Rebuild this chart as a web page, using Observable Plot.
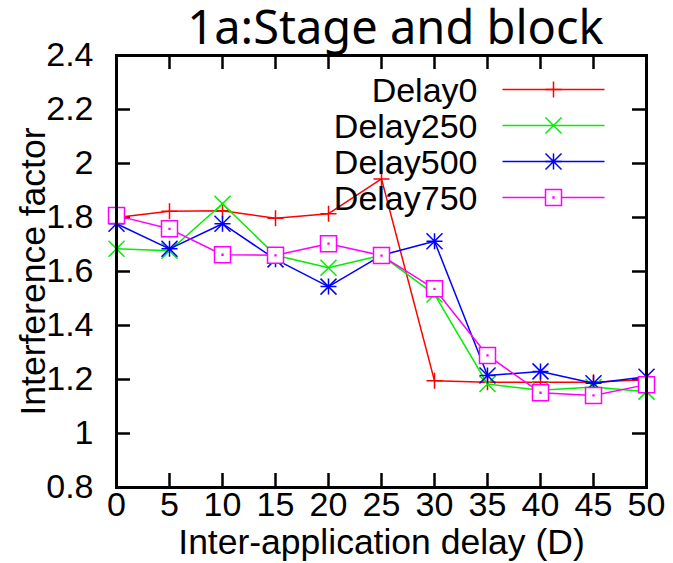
<!DOCTYPE html>
<html>
<head>
<meta charset="utf-8">
<script src="https://cdn.jsdelivr.net/npm/d3@7"></script>
<script src="https://cdn.jsdelivr.net/npm/@observablehq/plot@0.6"></script>
<style>
  html, body { margin: 0; padding: 0; background: white; }
  #chart { width: 673px; height: 563px; }
</style>
</head>
<body>
<div id="chart"></div>
<script>
// ---- data ----
const titleText = "1a:Stage and block";
const xLabel = "Inter-application delay (D)";
const yLabel = "Interference factor";
const xTicks = [0, 5, 10, 15, 20, 25, 30, 35, 40, 45, 50];
const yTicks = [0.8, 1.0, 1.2, 1.4, 1.6, 1.8, 2.0, 2.2, 2.4];
const yTickLabels = ["0.8", "1", "1.2", "1.4", "1.6", "1.8", "2", "2.2", "2.4"];
const delays = [0, 5, 10, 15, 20, 25, 30, 35, 40, 45, 50];
const delay0   = [1.80, 1.823, 1.825, 1.797, 1.814, 1.943, 1.195, 1.19, 1.19, 1.19, 1.20];
const delay250 = [1.684, 1.677, 1.851, 1.66, 1.614, 1.66, 1.515, 1.183, 1.16, 1.172, 1.155];
const delay500 = [1.777, 1.684, 1.777, 1.645, 1.544, 1.66, 1.712, 1.215, 1.23, 1.186, 1.21];
const delay750 = [1.807, 1.758, 1.662, 1.66, 1.703, 1.659, 1.536, 1.289, 1.151, 1.141, 1.181];
const seriesNames = ["Delay0", "Delay250", "Delay500", "Delay750"];
const seriesValues = [delay0, delay250, delay500, delay750];
const seriesColors = ["#ff0000", "#00ee00", "#0000ff", "#ff00ff"];

// ---- gnuplot-like point symbols ----
const half = s => Math.sqrt(s / Math.PI);
const symPlus = {draw(c, s) { const h = half(s); c.moveTo(-h, 0); c.lineTo(h, 0); c.moveTo(0, -h); c.lineTo(0, h); }};
const symTimes = {draw(c, s) { const h = half(s); c.moveTo(-h, -h); c.lineTo(h, h); c.moveTo(-h, h); c.lineTo(h, -h); }};
const symStar = {draw(c, s) { const h = half(s); c.moveTo(-h, 0); c.lineTo(h, 0); c.moveTo(0, -h); c.lineTo(0, h);
  c.moveTo(-h, -h); c.lineTo(h, h); c.moveTo(-h, h); c.lineTo(h, -h); }};
const symSquare = {draw(c, s) { const h = half(s); c.rect(-h, -h, 2 * h, 2 * h); c.rect(-0.4, -0.4, 0.8, 0.8); }};
const symHLine = {draw(c, s) { const h = half(s); c.moveTo(-h, 0); c.lineTo(h, 0); }};
const seriesSymbols = [symPlus, symTimes, symStar, symSquare];
const seriesFill = ["none", "none", "none", "white"];

const rows = seriesNames.flatMap((name, si) =>
  delays.map((d, i) => ({series: name, si, x: d, y: seriesValues[si][i]})));

const marks = [];
// series: line then points, in gnuplot order
seriesNames.forEach((name, si) => {
  const data = rows.filter(r => r.si === si);
  marks.push(Plot.line(data, {x: "x", y: "y", stroke: seriesColors[si], strokeWidth: 1.5}));
  marks.push(Plot.dot(data, {x: "x", y: "y", r: 8, symbol: seriesSymbols[si],
    stroke: seriesColors[si], fill: seriesFill[si], strokeWidth: 1.5}));
});

// legend (inside the frame, top right)
seriesNames.forEach((name, si) => {
  const dy = 34 + si * 36;
  marks.push(Plot.text([name], {text: d => d, frameAnchor: "top-left", dx: 361, dy: dy + 12,
    textAnchor: "end", lineAnchor: "bottom", fontSize: 34}));
  marks.push(Plot.dot([name], {frameAnchor: "top-left", dx: 437, dy, r: 51, symbol: symHLine,
    stroke: seriesColors[si], strokeWidth: 1.5}));
  marks.push(Plot.dot([name], {frameAnchor: "top-left", dx: 437, dy, r: 8, symbol: seriesSymbols[si],
    stroke: seriesColors[si], fill: seriesFill[si], strokeWidth: 1.5}));
});

const x0 = xTicks[0], x1 = xTicks[xTicks.length - 1];
const y0 = yTicks[0], y1 = yTicks[yTicks.length - 1];

const chart = Plot.plot({
  width: 673,
  height: 563,
  marginLeft: 116,
  marginRight: 27,
  marginTop: 55,
  marginBottom: 76,
  style: {fontFamily: "'Liberation Sans', Arial, sans-serif", fontSize: "34px", background: "white", color: "black"},
  x: {domain: [x0, x1], ticks: xTicks},
  y: {domain: [y0, y1], ticks: yTicks},
  marks: [
    // inward ticks on all four sides
    Plot.ruleX(xTicks, {x: d => d, y1: y0, y2: y0, insetTop: -14, stroke: "black", strokeWidth: 2.5}),
    Plot.ruleX(xTicks, {x: d => d, y1: y1, y2: y1, insetBottom: -14, stroke: "black", strokeWidth: 2.5}),
    Plot.ruleY(yTicks, {y: d => d, x1: x0, x2: x0, insetRight: -14, stroke: "black", strokeWidth: 2.5}),
    Plot.ruleY(yTicks, {y: d => d, x1: x1, x2: x1, insetLeft: -14, stroke: "black", strokeWidth: 2.5}),
    Plot.axisX({ticks: xTicks, tickSize: 0, tickPadding: 4, label: null, tickFormat: d => String(d)}),
    Plot.axisY({ticks: yTicks, tickSize: 0, tickPadding: 23, label: null,
      tickFormat: d => yTickLabels[yTicks.findIndex(t => Math.abs(t - d) < 1e-9)]}),
    ...marks,
    Plot.frame({stroke: "black", strokeWidth: 3}),
    Plot.text([xLabel], {text: d => d, frameAnchor: "bottom", dy: 66, textAnchor: "middle",
      lineAnchor: "bottom", fontSize: 35.5}),
    Plot.text([yLabel], {text: d => d, frameAnchor: "left", dx: -72, rotate: -90, textAnchor: "middle",
      lineAnchor: "bottom", fontSize: 35.5}),
    Plot.text([titleText], {text: d => d, frameAnchor: "top", dx: 14, dy: -12, textAnchor: "middle",
      lineAnchor: "bottom", fontSize: 47, fontFamily: "'Noto Sans', sans-serif"})
  ]
});
document.getElementById("chart").appendChild(chart);
</script>
</body>
</html>
